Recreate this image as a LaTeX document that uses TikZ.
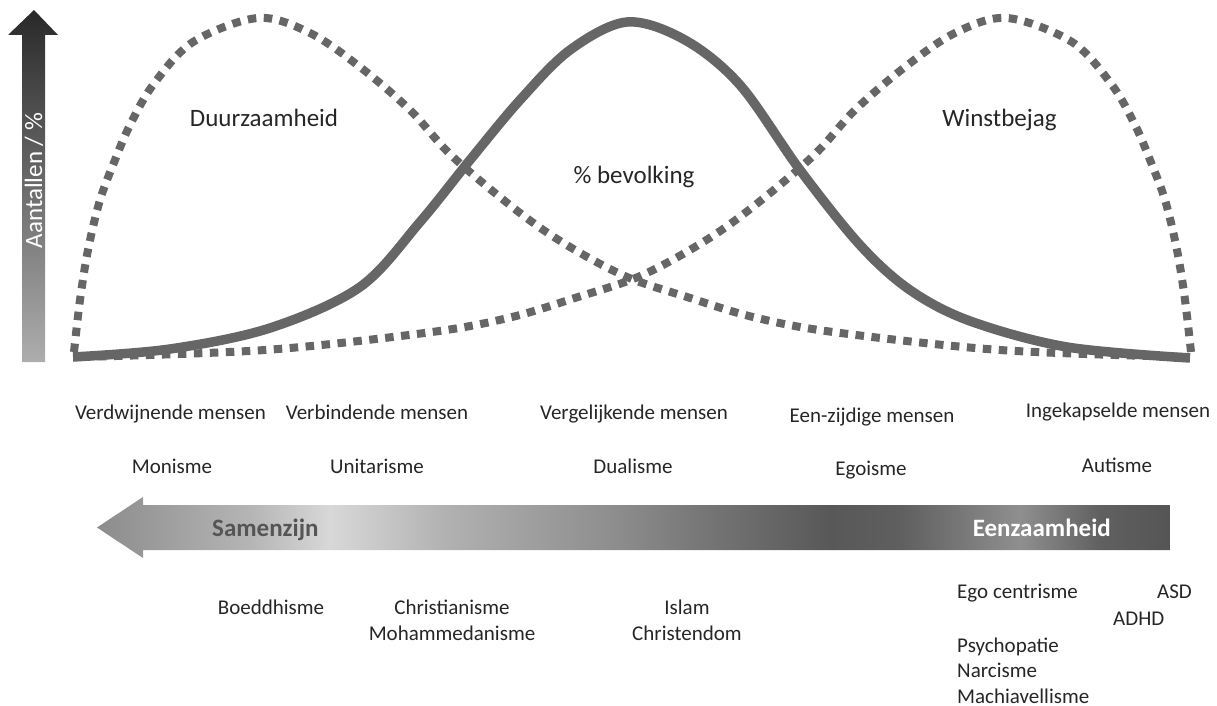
\documentclass[tikz,border=0pt]{standalone}
\usepackage{fontspec}
\setmainfont{Carlito}
\definecolor{curve}{HTML}{666666}
\definecolor{txt}{HTML}{262626}
\definecolor{samen}{HTML}{555555}
\definecolor{sA}{HTML}{8C8C8C}
\definecolor{sB}{HTML}{9A9A9A}
\definecolor{sC}{HTML}{B5B5B5}
\definecolor{sD}{HTML}{D8D8D8}
\definecolor{sE}{HTML}{B0B0B0}
\definecolor{sF}{HTML}{8C8C8C}
\definecolor{sG}{HTML}{777777}
\definecolor{sH}{HTML}{585858}
\definecolor{sI}{HTML}{5F5F5F}
\definecolor{sJ}{HTML}{8F8F8F}
\definecolor{sK}{HTML}{606060}
\definecolor{sL}{HTML}{555555}
\pgfdeclarehorizontalshading{bigarrowshade}{100bp}{color(0bp)=(sA); color(25bp)=(sA); color(27.47bp)=(sB); color(32.13bp)=(sC); color(35.86bp)=(sD); color(41.45bp)=(sE); color(49.37bp)=(sF); color(53.1bp)=(sG); color(59.16bp)=(sH); color(62.42bp)=(sI); color(68.01bp)=(sJ); color(71.74bp)=(sK); color(75bp)=(sL); color(100bp)=(sL)}
\tikzset{
  lab/.style={inner sep=0pt, text=txt, font=\fontsize{21}{25}\selectfont},
  biglab/.style={inner sep=0pt, text=txt, font=\fontsize{25}{30}\selectfont},
  solidcurve/.style={draw=curve, line width=9.5pt},
  dotcurve/.style={draw=curve, line width=8pt, dash pattern=on 8.5pt off 7.5pt},
}
\begin{document}
\begin{tikzpicture}[x=1pt, y=-1pt]
\useasboundingbox (0,0) rectangle (1217,706);

% vertical axis arrow
\shade[top color=black!84, bottom color=black!32]
  (22,362) -- (22,35) -- (8,35) -- (34,10) -- (58,35) -- (45,35) -- (45,362) -- cycle;
\node[inner sep=0pt, text=white, font=\fontsize{25}{30}\selectfont, rotate=90, anchor=base] (yax) at (42,180.5) {Aantallen / \%};

% dotted curves
\draw[dotcurve] plot[smooth, tension=0.55] coordinates {(74,352) (80,300) (88,250) (100,200) (115,160) (130,125) (153,85) (193,42) (258,18) (310,33) (360,67) (410,110) (453,157) (520,213) (570,247) (627,277) (687,297) (753,317) (833,332) (1000,350) (1187,357)};
\draw[dotcurve] plot[smooth, tension=0.55] coordinates {(1191,352) (1185,300) (1177,250) (1165,200) (1150,160) (1135,125) (1112,85) (1072,42) (1007,18) (955,33) (905,67) (855,110) (812,157) (745,213) (695,247) (638,277) (578,297) (512,317) (432,332) (265,350) (78,357)};
% solid curve
\draw[solidcurve] plot[smooth, tension=0.55] coordinates {(73,357) (170,349) (270,328) (360,287) (420,222) (470,160) (520,100) (570,50) (627,22) (685,40) (740,85) (800,170) (860,245) (910,290) (970,321) (1067,347) (1190,358)};

\node[biglab, anchor=base] (duur) at (264,126) {Duurzaamheid};
\node[biglab, anchor=base] (winst) at (999.5,126) {Winstbejag};
\node[biglab, anchor=base] (bev) at (634,183) {\% bevolking};

% labels row 1
\node[lab, anchor=base] (verdw) at (170.5,419) {Verdwijnende mensen};
\node[lab, anchor=base] (verb) at (377,419) {Verbindende mensen};
\node[lab, anchor=base] (vergl) at (634,419) {Vergelijkende mensen};
\node[lab, anchor=base] (eenz) at (872,422) {Een-zijdige mensen};
\node[lab, anchor=base] (ingek) at (1118,417) {Ingekapselde mensen};
% row 2
\node[lab, anchor=base] (mon) at (172,473) {Monisme};
\node[lab, anchor=base] (unit) at (377,473) {Unitarisme};
\node[lab, anchor=base] (dual) at (633,473) {Dualisme};
\node[lab, anchor=base] (ego) at (871,475) {Egoisme};
\node[lab, anchor=base] (aut) at (1117,472) {Autisme};

% big horizontal arrow
\shade[shading=bigarrowshade]
  (97,527.5) -- (143,497) -- (143,505) -- (1170,505) -- (1170,550) -- (143,550) -- (143,558) -- cycle;
\node[inner sep=0pt, text=samen, font=\fontsize{25}{30}\selectfont\bfseries, anchor=base west] (samenzijn) at (212,536) {Samenzijn};
\node[inner sep=0pt, text=white, font=\fontsize{25}{30}\selectfont\bfseries, anchor=base east] (eenzaam) at (1111,536) {Eenzaamheid};

% bottom labels
\node[lab, anchor=base] (boed) at (271,614) {Boeddhisme};
\node[lab, anchor=base] (christ) at (452,614) {Christianisme};
\node[lab, anchor=base] (moham) at (452,640) {Mohammedanisme};
\node[lab, anchor=base] (islam) at (687,614) {Islam};
\node[lab, anchor=base] (christd) at (687,640) {Christendom};
\node[lab, anchor=base west] (egoc) at (957,598) {Ego centrisme};
\node[lab, anchor=base east] (asd) at (1192,598) {ASD};
\node[lab, anchor=base west] (adhd) at (1113,625) {ADHD};
\node[lab, anchor=base west] (psych) at (957,652) {Psychopatie};
\node[lab, anchor=base west] (narc) at (957,677) {Narcisme};
\node[lab, anchor=base west] (mach) at (957,703) {Machiavellisme};
\end{tikzpicture}
\end{document}
